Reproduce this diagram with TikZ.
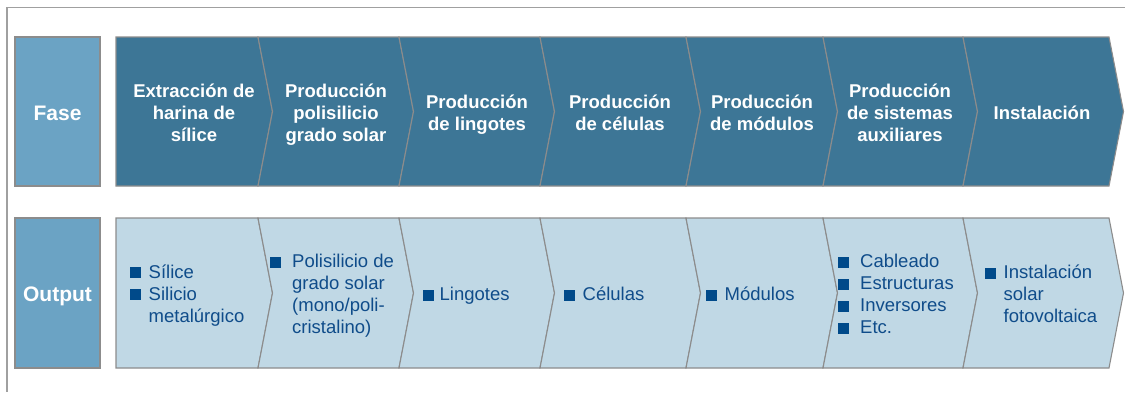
\documentclass[tikz,border=0pt]{standalone}
\usepackage{fontspec}
\setmainfont{Liberation Sans}
\definecolor{darkchev}{HTML}{3D7696}
\definecolor{labbox}{HTML}{6BA3C4}
\definecolor{outchev}{HTML}{C0D8E5}
\definecolor{bulc}{HTML}{004A8A}
\definecolor{outtxt}{HTML}{0F4C8A}
\definecolor{edge}{HTML}{8C8C8C}
\definecolor{frame}{HTML}{A0A0A0}
\newcommand{\bulg}[1]{\textcolor{bulc}{\rule[0.2pt]{10.5pt}{10.5pt}}\hspace{#1}}
\newcommand{\indg}[1]{\hspace*{\dimexpr10.5pt+#1\relax}}
\newcommand{\bul}{\bulg{8pt}}
\newcommand{\ind}{\indg{8pt}}
\newcommand{\bulw}{\bulg{11.5pt}}
\newcommand{\indw}{\indg{11.5pt}}
\newcommand{\fs}{\rule[-4.5pt]{0pt}{18pt}}
\begin{document}
\begin{tikzpicture}[x=1pt,y=-1pt,
  labelbox/.style={fill=labbox,draw=edge,line width=1.2pt},
  phasechev/.style={fill=darkchev,draw=edge,line width=1.1pt,line join=miter},
  outchevst/.style={fill=outchev,draw=edge,line width=1.1pt,line join=miter},
  phasetxt/.style={text=white,font=\bfseries\fontsize{18.5}{22}\selectfont,align=center,inner sep=0pt},
  labtxt/.style={text=white,font=\bfseries\fontsize{21}{24}\selectfont,inner sep=0pt,anchor=base},
  outtext/.style={text=outtxt,font=\fontsize{18.5}{22}\selectfont,align=left,inner sep=0pt,anchor=west}]
\useasboundingbox (0,0) rectangle (1125,392);
% outer frame (top and left only)
\draw[frame,line width=1.3pt] (1125,7.5) -- (7,7.5) -- (7,392);
% label boxes
\draw[labelbox] (15,37) rectangle (100,186);
\draw[labelbox] (15,218) rectangle (100,368);
\node[labtxt] (fase) at (57.5,120) {Fase};
\node[labtxt] (output) at (57.5,301.5) {Output};
% chevrons
\def\tip{14.5}
\foreach \ty/\by/\sty in {37/186/phasechev, 218/368/outchevst}{
  \pgfmathsetmacro{\my}{(\ty+\by)/2}
  \draw[\sty] (116,\ty) -- (258,\ty) -- (258+\tip,\my) -- (258,\by) -- (116,\by) -- cycle;
  \foreach \l/\r in {258/399, 399/540, 540/686, 686/823, 823/963, 963/1109}{
    \draw[\sty] (\l,\ty) -- (\r,\ty) -- (\r+\tip,\my) -- (\r,\by) -- (\l,\by) -- (\l+\tip,\my) -- cycle;
  }
}
% phase texts
\node[phasetxt] (p1) at (194,115.3) {\fs Extracción de\\harina de\\sílice\fs};
\node[phasetxt] (p2) at (336,115.3) {\fs Producción\\polisilicio\\grado solar\fs};
\node[phasetxt] (p3) at (477,115.3) {\fs Producción\\de lingotes\fs};
\node[phasetxt] (p4) at (620,115.3) {\fs Producción\\de células\fs};
\node[phasetxt] (p5) at (762,115.3) {\fs Producción\\de módulos\fs};
\node[phasetxt] (p6) at (900,115.3) {\fs Producción\\de sistemas\\auxiliares\fs};
\node[phasetxt] (p7) at (1042,115.3) {\fs Instalación\fs};
% output texts
\node[outtext] (o1) at (130,295.5) {\fs\bul Sílice\\\bul Silicio\\\ind metalúrgico\fs};
\node[outtext] (o2) at (270,296.3) {\fs\bulw Polisilicio de\\\indw grado solar\\\indw (mono/poli-\\\indw cristalino)\fs};
\node[outtext] (o3) at (423,296.3) {\fs\bulg{6pt}Lingotes\fs};
\node[outtext] (o4) at (564,296.3) {\fs\bul Células\fs};
\node[outtext] (o5) at (706,296.3) {\fs\bul Módulos\fs};
\node[outtext] (o6) at (838,296.3) {\fs\bulw Cableado\\\bulw Estructuras\\\bulw Inversores\\\bulw Etc.\fs};
\node[outtext] (o7) at (985,296.3) {\fs\bul Instalación\\\ind solar\\\ind fotovoltaica\fs};
\end{tikzpicture}
\end{document}
